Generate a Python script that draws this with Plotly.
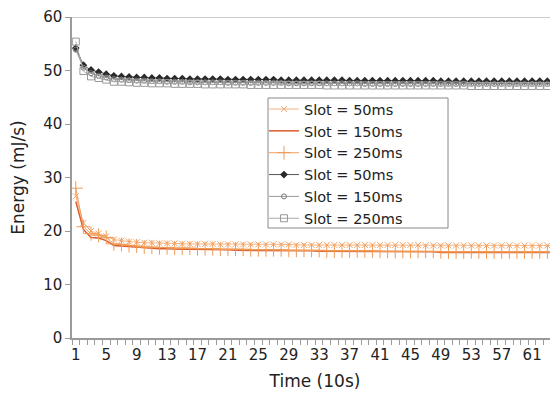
import plotly.graph_objects as go

time_idx = list(range(1, 65))
x_tick_vals = [1, 5, 9, 13, 17, 21, 25, 29, 33, 37, 41, 45, 49, 53, 57, 61]
y_tick_vals = [0, 10, 20, 30, 40, 50, 60]

orange_50 = [26.5, 21.5, 20.0, 19.5, 19.0, 18.4, 18.2, 18.0,
             17.9, 17.8, 17.8, 17.7, 17.7, 17.7, 17.6, 17.6,
             17.6, 17.6, 17.6, 17.5, 17.5, 17.5, 17.5, 17.5,
             17.5, 17.5, 17.5, 17.5, 17.5, 17.4, 17.4, 17.4,
             17.4, 17.4, 17.4, 17.4, 17.4, 17.4, 17.4, 17.4,
             17.4, 17.4, 17.4, 17.4, 17.4, 17.4, 17.3, 17.3,
             17.3, 17.3, 17.3, 17.3, 17.3, 17.3, 17.3, 17.3,
             17.3, 17.3, 17.3, 17.3, 17.3, 17.3, 17.3, 17.3]
orange_150 = [25.5, 20.3, 18.8, 18.7, 18.2, 17.3, 17.2, 17.1,
              16.9, 16.8, 16.8, 16.7, 16.7, 16.6, 16.6, 16.6,
              16.6, 16.5, 16.5, 16.5, 16.5, 16.4, 16.4, 16.4,
              16.4, 16.4, 16.3, 16.3, 16.3, 16.3, 16.3, 16.3,
              16.2, 16.2, 16.2, 16.2, 16.2, 16.2, 16.2, 16.2,
              16.1, 16.1, 16.1, 16.1, 16.1, 16.1, 16.1, 16.1,
              16.0, 16.0, 16.0, 16.0, 16.0, 16.0, 16.0, 16.0,
              16.0, 16.0, 16.0, 16.0, 16.0, 16.0, 16.0, 16.0]
orange_250 = [28.0, 20.8, 19.5, 19.2, 18.8, 17.6, 17.5, 17.3,
              17.2, 17.0, 17.0, 16.9, 16.9, 16.8, 16.8, 16.8,
              16.7, 16.7, 16.7, 16.6, 16.6, 16.6, 16.6, 16.5,
              16.5, 16.5, 16.5, 16.5, 16.4, 16.4, 16.4, 16.4,
              16.4, 16.3, 16.3, 16.3, 16.3, 16.3, 16.3, 16.3,
              16.2, 16.2, 16.2, 16.2, 16.2, 16.2, 16.2, 16.2,
              16.1, 16.1, 16.1, 16.1, 16.1, 16.1, 16.1, 16.1,
              16.1, 16.1, 16.1, 16.1, 16.1, 16.1, 16.1, 16.1]
black_50 = [54.2, 51.0, 50.1, 49.7, 49.3, 49.0, 48.9, 48.8,
            48.7, 48.7, 48.6, 48.6, 48.5, 48.5, 48.5, 48.4,
            48.4, 48.4, 48.4, 48.4, 48.3, 48.3, 48.3, 48.3,
            48.3, 48.3, 48.3, 48.2, 48.2, 48.2, 48.2, 48.2,
            48.2, 48.2, 48.2, 48.2, 48.1, 48.1, 48.1, 48.1,
            48.1, 48.1, 48.1, 48.1, 48.1, 48.1, 48.1, 48.1,
            48.0, 48.0, 48.0, 48.0, 48.0, 48.0, 48.0, 48.0,
            48.0, 48.0, 48.0, 48.0, 48.0, 48.0, 48.0, 48.0]
black_150 = [53.9, 50.5, 49.5, 49.0, 48.7, 48.4, 48.3, 48.2,
             48.1, 48.1, 48.0, 48.0, 47.9, 47.9, 47.9, 47.8,
             47.8, 47.8, 47.8, 47.8, 47.7, 47.7, 47.7, 47.7,
             47.7, 47.7, 47.7, 47.7, 47.6, 47.6, 47.6, 47.6,
             47.6, 47.6, 47.6, 47.6, 47.6, 47.6, 47.5, 47.5,
             47.5, 47.5, 47.5, 47.5, 47.5, 47.5, 47.5, 47.5,
             47.5, 47.5, 47.5, 47.5, 47.5, 47.5, 47.5, 47.5,
             47.5, 47.5, 47.5, 47.5, 47.5, 47.5, 47.5, 47.5]
black_250 = [55.4, 49.9, 48.9, 48.6, 48.3, 47.9, 47.9, 47.8,
             47.7, 47.7, 47.6, 47.6, 47.6, 47.5, 47.5, 47.5,
             47.5, 47.4, 47.4, 47.4, 47.4, 47.4, 47.4, 47.3,
             47.3, 47.3, 47.3, 47.3, 47.3, 47.3, 47.3, 47.3,
             47.3, 47.2, 47.2, 47.2, 47.2, 47.2, 47.2, 47.2,
             47.2, 47.2, 47.2, 47.2, 47.2, 47.2, 47.2, 47.2,
             47.2, 47.2, 47.2, 47.2, 47.1, 47.1, 47.1, 47.1,
             47.1, 47.1, 47.1, 47.1, 47.1, 47.1, 47.1, 47.1]

FONT = "DejaVu Sans, Liberation Sans, Arial, sans-serif"

fig = go.Figure()

fig.add_trace(go.Scatter(
    x=time_idx, y=orange_50, name="Slot = 50ms", mode="lines+markers",
    line=dict(color="#F6B27E", width=1),
    marker=dict(symbol="x-thin", size=6, line=dict(color="#F4A66A", width=1))))
fig.add_trace(go.Scatter(
    x=time_idx, y=orange_150, name="Slot = 150ms", mode="lines",
    line=dict(color="#DA5A2A", width=1.5)))
fig.add_trace(go.Scatter(
    x=time_idx, y=orange_250, name="Slot = 250ms", mode="lines+markers",
    line=dict(color="#F0A060", width=1),
    marker=dict(symbol="cross-thin", size=10, line=dict(color="#F09A55", width=1))))
fig.add_trace(go.Scatter(
    x=time_idx, y=black_50, name="Slot = 50ms", mode="lines+markers",
    line=dict(color="#555555", width=1),
    marker=dict(symbol="diamond", size=6, color="#2a2a2a")))
fig.add_trace(go.Scatter(
    x=time_idx, y=black_150, name="Slot = 150ms", mode="lines+markers",
    line=dict(color="#999999", width=1),
    marker=dict(symbol="circle-open", size=5, color="#777777", line=dict(width=1))))
fig.add_trace(go.Scatter(
    x=time_idx, y=black_250, name="Slot = 250ms", mode="lines+markers",
    line=dict(color="#aaaaaa", width=1),
    marker=dict(symbol="square-open", size=7, color="#999999", line=dict(width=1))))

# top border line of the plot area
fig.add_shape(type="line", xref="paper", yref="y", x0=0, x1=1, y0=60, y1=60,
              line=dict(color="#9a9a9a", width=1))
# legend frame
fig.add_shape(type="rect", xref="paper", yref="paper",
              x0=0.4033, x1=0.7737, y0=0.3427, y1=0.7477,
              line=dict(color="#888888", width=1), fillcolor="white", layer="below")

fig.update_layout(
    width=558, height=398,
    margin=dict(l=64, r=8, t=9, b=68, autoexpand=False),
    paper_bgcolor="white", plot_bgcolor="white",
    font=dict(family=FONT, size=15, color="#222222"),
    showlegend=True,
    legend=dict(x=0.395, y=0.763, xanchor="left", yanchor="top",
                borderwidth=0, bgcolor="rgba(0,0,0,0)",
                font=dict(size=14.5, family=FONT), tracegroupgap=0, itemwidth=30),
    xaxis=dict(
        range=[0.5, 64.4], tickmode="array", tickvals=x_tick_vals,
        ticktext=[str(v) for v in x_tick_vals], ticks="", showgrid=False,
        zeroline=False, showline=True, linecolor="#9a9a9a", linewidth=1.5,
        tickfont=dict(size=15), automargin=False, ticklabelstandoff=2,
        minor=dict(ticks="outside", tick0=0.5, dtick=1, ticklen=5,
                   tickcolor="#9a9a9a", showgrid=False),
        title=dict(text="Time (10s)", font=dict(size=17), standoff=12)),
    yaxis=dict(
        range=[0, 60], tickmode="array", tickvals=y_tick_vals,
        ticks="outside", ticklen=5, tickcolor="#9a9a9a", showgrid=False,
        zeroline=False, showline=True, linecolor="#9a9a9a", linewidth=1.5,
        tickfont=dict(size=15), automargin=False,
        title=dict(text="Energy (mJ/s)", font=dict(size=17), standoff=20)),
)

fig.write_html("out.html")
